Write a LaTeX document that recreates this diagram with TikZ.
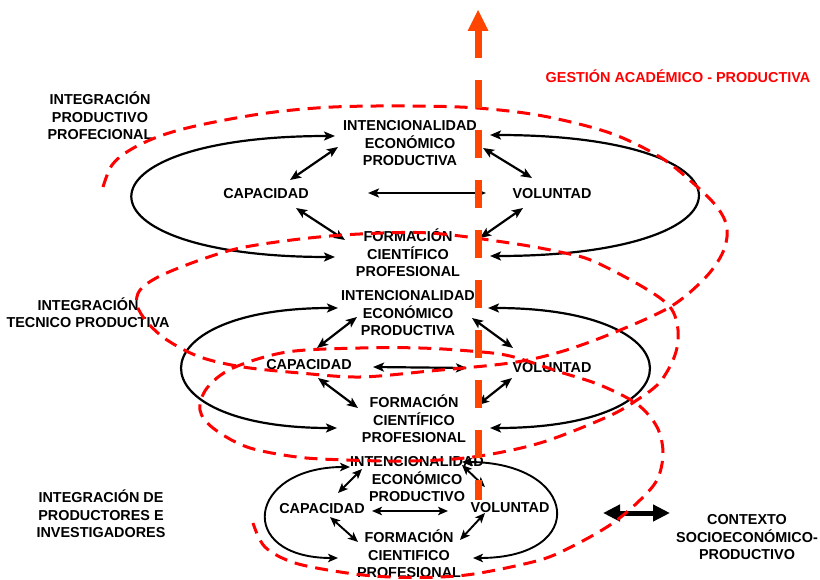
\documentclass[tikz,border=0pt]{standalone}
\usepackage{fontspec}
\setmainfont{Liberation Sans}
\usetikzlibrary{arrows.meta,calc}
\definecolor{spiralred}{RGB}{255,0,0}
\definecolor{gorange}{RGB}{255,69,0}
\newcommand{\mystrut}{\rule[-3.2pt]{0pt}{16.7pt}}
\begin{document}
\begin{tikzpicture}[x=1pt,y=-1pt,
  lbl/.style={inner sep=0pt, align=center, font=\fontsize{14.4pt}{17.5pt}\selectfont\bfseries},
  dbl/.style={line width=2.2pt, {Stealth[length=11pt,width=9pt,inset=2.5pt]}-{Stealth[length=11pt,width=9pt,inset=2.5pt]}},
  dbls/.style={line width=1.9pt, {Stealth[length=10pt,width=8.5pt,inset=2.5pt]}-{Stealth[length=10pt,width=8.5pt,inset=2.5pt]}},
  spiral/.style={draw=spiralred, line width=3pt, dash pattern=on 13pt off 8pt},
  gest/.style={draw=gorange, line width=7pt, dash pattern=on 28pt off 22pt},
  ctxarrow/.style={line width=5pt, {Triangle[length=17pt,width=16pt]}-{Triangle[length=17pt,width=16pt]}}
]
\useasboundingbox (0,0) rectangle (820,580);

% ---- texts ----
\node[lbl] (lab1) at (100,117) {\mystrut INTEGRACIÓN\\\mystrut PRODUCTIVO\\\mystrut PROFECIONAL};
\node[lbl] (lab2) at (88,314) {\mystrut INTEGRACIÓN\\\mystrut TECNICO PRODUCTIVA};
\node[lbl] (lab3) at (101,515) {\mystrut INTEGRACIÓN DE\\\mystrut PRODUCTORES E\\\mystrut INVESTIGADORES};
\node[lbl, text=spiralred] (gtitle) at (678,77) {\mystrut GESTIÓN ACADÉMICO - PRODUCTIVA};
\node[lbl] (ctx) at (747,537) {\mystrut CONTEXTO\\\mystrut SOCIOECONÓMICO-\\\mystrut PRODUCTIVO};

\node[lbl] (int1) at (410,143) {\mystrut INTENCIONALIDAD\\\mystrut ECONÓMICO\\\mystrut PRODUCTIVA};
\node[lbl] (cap1) at (266,193) {\mystrut CAPACIDAD};
\node[lbl] (vol1) at (552,193) {\mystrut VOLUNTAD};
\node[lbl] (for1) at (408,254) {\mystrut FORMACIÓN\\\mystrut CIENTÍFICO\\\mystrut PROFESIONAL};

\node[lbl] (int2) at (408,313) {\mystrut INTENCIONALIDAD\\\mystrut ECONÓMICO\\\mystrut PRODUCTIVA};
\node[lbl] (cap2) at (309,364) {\mystrut CAPACIDAD};
\node[lbl] (vol2) at (552,367) {\mystrut VOLUNTAD};
\node[lbl] (for2) at (414,420) {\mystrut FORMACIÓN\\\mystrut CIENTÍFICO\\\mystrut PROFESIONAL};

\node[lbl] (int3) at (417,479) {\mystrut INTENCIONALIDAD\\\mystrut ECONÓMICO\\\mystrut PRODUCTIVO};
\node[lbl] (cap3) at (322,508) {\mystrut CAPACIDAD};
\node[lbl] (vol3) at (510,507) {\mystrut VOLUNTAD};
\node[lbl] (for3) at (409,555) {\mystrut FORMACIÓN\\\mystrut CIENTIFICO\\\mystrut PROFESIONAL};

% ---- level 1 arrows ----
\draw[dbl] ([shift={(-75,-7)}]int1.center) .. controls +(-269,0) and +(-269,0) .. ([shift={(-73,3)}]for1.center);
\draw[dbl] ([shift={(80,-8)}]int1.center) .. controls +(276,0) and +(276,0) .. ([shift={(82,2)}]for1.center);
\draw[dbl] ([shift={(24,-13)}]cap1.center) -- ([shift={(-72,4)}]int1.center);
\draw[dbl] ([shift={(30,15)}]cap1.center) -- ([shift={(-63,-14)}]for1.center);
\draw[dbl] ([shift={(102,0)}]cap1.center) -- ([shift={(-66,0)}]vol1.center);
\draw[dbl] ([shift={(-20,-15)}]vol1.center) -- ([shift={(73,5)}]int1.center);
\draw[dbl] ([shift={(-29,15)}]vol1.center) -- ([shift={(72,-16)}]for1.center);

% ---- level 2 arrows ----
\draw[dbl] ([shift={(-70,-5)}]int2.center) .. controls +(-206,0) and +(-206,0) .. ([shift={(-77,8)}]for2.center);
\draw[dbl] ([shift={(80,-5)}]int2.center) .. controls +(212,0) and +(212,0) .. ([shift={(76,8)}]for2.center);
\draw[dbl] ([shift={(8,-16)}]cap2.center) -- ([shift={(-51,4)}]int2.center);
\draw[dbl] ([shift={(9,14)}]cap2.center) -- ([shift={(-56,-12)}]for2.center);
\draw[dbl] ([shift={(64,3)}]cap2.center) -- ([shift={(-85,1)}]vol2.center);
\draw[dbl] ([shift={(-39,-19)}]vol2.center) -- ([shift={(64,5)}]int2.center);
\draw[dbl] ([shift={(-40,11)}]vol2.center) -- ([shift={(64,-15)}]for2.center);

% ---- level 3 arrows ----
\draw[dbls] ([shift={(-67,-12)}]int3.center) .. controls +(-103,0) and +(-103,0) .. ([shift={(-71,3)}]for3.center);
\draw[dbls] ([shift={(45,-17)}]int3.center) .. controls +(117,0) and +(117,0) .. ([shift={(64,3)}]for3.center);
\draw[dbls] ([shift={(16,-15)}]cap3.center) -- ([shift={(-55,-10)}]int3.center);
\draw[dbls] ([shift={(8,9)}]cap3.center) -- ([shift={(-51,-13)}]for3.center);
\draw[dbls] ([shift={(50,3)}]cap3.center) -- ([shift={(-62,4)}]vol3.center);
\draw[dbls] ([shift={(-25,-20)}]vol3.center) -- ([shift={(45,-14)}]int3.center);
\draw[dbls] ([shift={(-25,6)}]vol3.center) -- ([shift={(51,-15)}]for3.center);

% ---- context arrow ----
\draw[ctxarrow] ([shift={(-144,-24)}]ctx.center) -- ([shift={(-77,-24)}]ctx.center);

% ---- red dashed spiral ----
\draw[spiral] plot[smooth, tension=0.55] coordinates {
 (103,187) (112,165) (130,150) (160,136) (200,125) (267,113) (333,107) (410,106)
 (477,108) (543,116) (610,133) (660,157) (693,183) (717,207) (727,228) (723,252)
 (705,278) (670,307) (613,333) (560,352) (510,363) (430,371) (360,377) (300,373)
 (243,367) (200,357) (167,340) (147,322) (137,305) (140,290) (160,276) (200,260)
 (240,248) (300,239) (360,234) (430,233) (510,243) (560,252) (593,261) (643,287)
 (670,307) (678,330) (675,355) (660,382) (637,400) (607,417) (540,443) (473,457)
 (410,461) (347,460) (297,457) (247,447) (213,428) (200,410) (207,388) (233,368)
 (287,352) (360,348) (420,348) (470,351) (510,356) (560,372) (600,385) (637,404)
 (657,427) (663,453) (657,480) (637,503) (610,525) (573,546) (540,560) (480,573)
 (440,577) (390,577) (347,573) (295,563) (265,547) (253,523)};

% ---- orange dashed axis ----
\coordinate (gtip) at (478,10);
\coordinate (gbase) at (478,30);
\coordinate (gend) at (478,500);
\draw[gest] (gbase) -- (gend);
\fill[gorange] (gtip) -- ([xshift=10.5pt,yshift=-1pt]gbase) -- ([xshift=-10.5pt,yshift=-1pt]gbase) -- cycle;
\end{tikzpicture}
\end{document}
